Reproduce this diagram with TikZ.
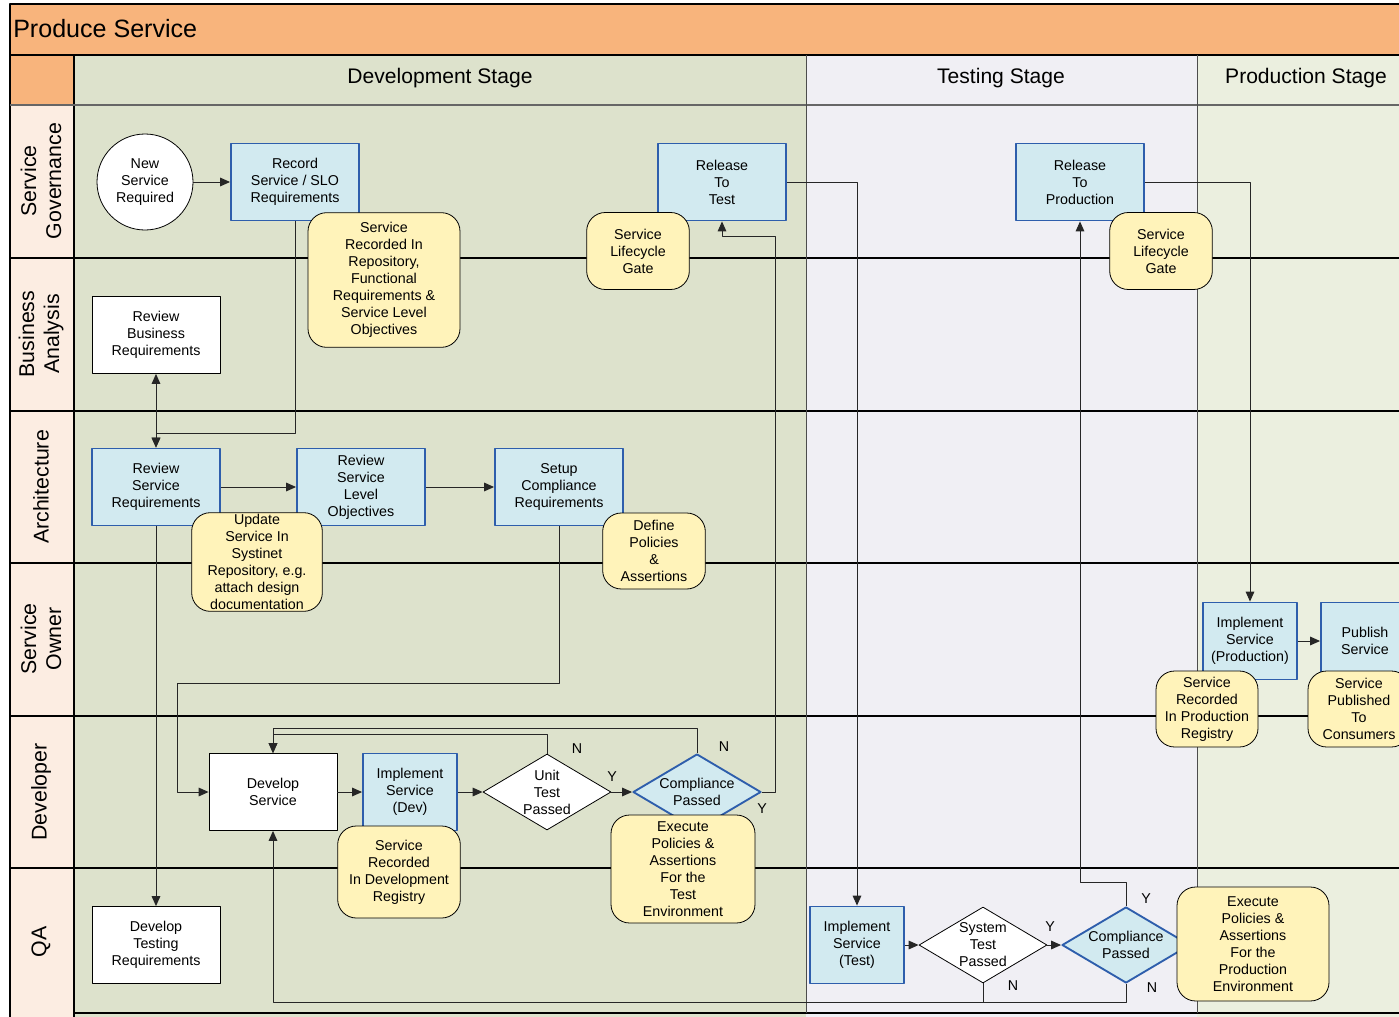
\documentclass[tikz,border=0pt]{standalone}
\usepackage{fontspec}
\setmainfont{Liberation Sans}
\usetikzlibrary{shapes.geometric,arrows.meta}
\definecolor{titleor}{RGB}{248,180,124}
\definecolor{lanepeach}{RGB}{252,237,226}
\definecolor{devbg}{RGB}{221,226,204}
\definecolor{testbg}{RGB}{240,239,244}
\definecolor{prodbg}{RGB}{235,239,223}
\definecolor{procfill}{RGB}{210,234,240}
\definecolor{procline}{RGB}{46,94,172}
\definecolor{notefill}{RGB}{255,243,186}
\begin{document}
\begin{tikzpicture}[x=.75pt, y=-.75pt, line join=round, >={Triangle[length=7.5pt,width=6.5pt]},
	every node/.style={font=\fontsize{10.7}{12.75}\selectfont, align=center, inner sep=0pt},
	task/.style={draw, fill=white, line width=.6pt, minimum width=96pt, minimum height=57.75pt},
	proc/.style={task, draw=procline, fill=procfill, line width=1.4pt},
	note/.style={draw, fill=notefill, line width=.6pt, rounded corners=14pt},
	decide/.style={diamond, aspect=1.7, draw, fill=white, line width=.6pt, minimum width=96pt, minimum height=57pt},
	check/.style={draw=procline, fill=procfill, line width=1.4pt},
	lane/.style={font=\fontsize{16}{18.75}\selectfont, rotate=90},
	stage/.style={font=\fontsize{15.8}{18}\selectfont},
	flow/.style={black!85, line width=.7pt}]
	\clip (0,0) rectangle (1399,1017);
	\fill[titleor] (10,4) rectangle (1399,105);
	\fill[lanepeach] (10,105) rectangle (74,1017);
	\fill[devbg] (74,55) rectangle (806,1017);
	\fill[testbg] (806,55) rectangle (1197,1017);
	\fill[prodbg] (1197,55) rectangle (1399,1017);
	\draw[line width=1pt] (10,1017)--(10,4)--(1399,4) (10,55)--(1399,55) (74,55)--(74,1017);
	\draw[line width=1pt, black!60] (10,105)--(1399,105);
	\foreach \y in {258,411,563,716,868} \draw[line width=1pt] (10,\y)--(1399,\y);
	\draw[line width=1pt] (74,1013)--(1399,1013);
	\draw[black!70] (806,55)--(806,1013) (1197,55)--(1197,1013);
	\node[anchor=west, font=\fontsize{18.8}{22}\selectfont] (title) at (13,29) {Produce Service};
	\node[stage] (sdev) at (440,78) {Development Stage};
	\node[stage] (stest) at (1001,78) {Testing Stage};
	\node[stage] (sprod) at (1306,78) {Production Stage};
	\foreach \y/\t [count=\i] in {181/{Service\\Governance}, 334/{Business\\Analysis}, 487/Architecture, 639/{Service\\Owner}, 792/Developer, 942/QA}
		\node[lane] (lane\i) at (41,\y) {\t};
	% tasks and decisions
	\node[circle, draw, fill=white, line width=.6pt, minimum size=72pt] (nsr) at (145,182) {New\\Service\\Required};
	\node[proc] (rec) at (295,182) {Record\\Service / SLO\\Requirements};
	\node[proc] (rtt) at (722,182) {Release\\To\\Test};
	\node[proc] (rtp) at (1080,182) {Release\\To\\Production};
	\node[task] (rbr) at (156,335) {Review\\Business\\Requirements};
	\node[proc] (rsr) at (156,487) {Review\\Service\\Requirements};
	\node[proc] (rslo) at (361,487) {Review\\Service\\Level\\Objectives};
	\node[proc] (scr) at (559,487) {Setup\\Compliance\\Requirements};
	\node[proc, minimum width=70.5pt] (ipr) at (1250,641) {Implement\\Service\\(Production)};
	\node[proc, minimum width=66pt] (pub) at (1365,641) {Publish\\Service};
	\node[task] (ds) at (273,792) {Develop\\Service};
	\node[proc, minimum width=70.5pt] (idev) at (410,792) {Implement\\Service\\(Dev)};
	\node[decide] (ut) at (547,792) {Unit\\Test\\Passed};
	\node[decide, check] (cpd) at (697,792) {Compliance\\Passed};
	\node[task] (dtr) at (156,945) {Develop\\Testing\\Requirements};
	\node[proc, minimum width=70.5pt] (its) at (857,945) {Implement\\Service\\(Test)};
	\node[decide] (st) at (983,945) {System\\Test\\Passed};
	\node[decide, check] (cpq) at (1126,945) {Compliance\\Passed};
	% notes
	\node[note, minimum width=114pt, minimum height=101pt] (nrep) at (384,280) {Service\\Recorded In\\Repository,\\Functional\\Requirements \&\\Service Level\\Objectives};
	\node[note, minimum width=77pt, minimum height=57.75pt] (gate1) at (638,251) {Service\\Lifecycle\\Gate};
	\node[note, minimum width=77pt, minimum height=57.75pt] (gate2) at (1161,251) {Service\\Lifecycle\\Gate};
	\node[note, minimum width=98pt, minimum height=74pt] (nupd) at (257,562) {Update\\Service In\\Systinet\\Repository, e.g.\\attach design\\documentation};
	\node[note, minimum width=77pt, minimum height=57pt] (ndef) at (654,551) {Define\\Policies\\\&\\Assertions};
	\node[note, minimum width=76.5pt, minimum height=57pt] (nprr) at (1207,709) {Service\\Recorded\\In Production\\Registry};
	\node[note, minimum width=76.5pt, minimum height=57pt] (npub) at (1359,709) {Service\\Published\\To\\Consumers};
	\node[note, minimum width=108pt, minimum height=81pt] (nexd) at (683,869) {Execute\\Policies \&\\Assertions\\For the\\Test\\Environment};
	\node[note, minimum width=92pt, minimum height=69pt] (ndr) at (399,872) {Service\\Recorded\\In Development\\Registry};
	\node[note, minimum width=114pt, minimum height=85.5pt] (nexp) at (1253,944) {Execute\\Policies \&\\Assertions\\For the\\Production\\Environment};
	\node (utn) at (577,749) {N};
	\node (uty) at (612,777) {Y};
	\node (cdn) at (724,747) {N};
	\node (cdy) at (762,809) {Y};
	\node (sty) at (1050,927) {Y};
	\node (stn) at (1013,986) {N};
	\node (cqy) at (1146,899) {Y};
	\node (cqn) at (1152,988) {N};
	% connectors
	\draw[flow, ->] (nsr) -- (rec);
	\draw[flow, ->] (rec.south) -- ++(0,212) -| (rsr.north);
	\draw[flow, <->] (rbr) -- (rsr);
	\draw[flow, ->] (rsr) -- (rslo);
	\draw[flow, ->] (rslo) -- (scr);
	\draw[flow, ->] (rsr) -- (dtr);
	\draw[flow, ->] (scr.south) |- (177,683) |- (ds.west);
	\draw[flow, ->] (ds) -- (idev);
	\draw[flow, ->] (idev) -- (ut);
	\draw[flow, ->] (ut) -- (cpd);
	\draw[flow, ->] (ut.north) -- ++(0,-19) -| (ds.north);
	\draw[flow, ->] (cpd.north) -- ++(0,-25) -| (ds.north);
	\draw[flow, ->] (cpd.east) -| (775,236) -| (rtt.south);
	\draw[flow, ->] (rtt.east) -| (its.north);
	\draw[flow, ->] (its) -- (st);
	\draw[flow, ->] (st) -- (cpq);
	\draw[flow, ->] (st.south) -- ++(0,19) -| (ds.south);
	\draw[flow] (cpq.south) -- ++(0,19) -| (st.south);
	\draw[flow, ->] (cpq.north) -- ++(0,-24) -| (rtp.south);
	\draw[flow, ->] (rtp.east) -| (ipr.north);
	\draw[flow, ->] (ipr) -- (pub);
\end{tikzpicture}
\end{document}
